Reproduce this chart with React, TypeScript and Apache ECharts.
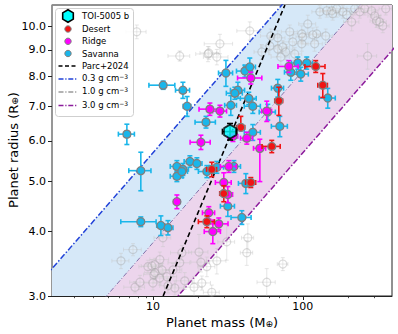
import React, { useEffect, useRef } from "react";
import * as echarts from "echarts";

// ---------- data ----------
// [mass (M_E), mass error, radius (R_E), radius error low, radius error high]
const SAVANNA: number[][] = [
  [11.7, 2.3, 7.69, 0.14, 0.14],
  [15.85, 1.7, 7.52, 0.27, 0.27],
  [16.9, 1.0, 7.0, 0.31, 0.31],
  [6.7, 0.82, 6.18, 0.28, 0.28],
  [8.3, 1.4, 5.25, 0.45, 0.45],
  [14.45, 1.4, 5.35, 0.14, 0.14],
  [15.85, 1.4, 5.28, 0.14, 0.14],
  [14.45, 1.4, 5.12, 0.12, 0.12],
  [15.6, 1.4, 5.23, 0.14, 0.14],
  [17.65, 1.5, 5.47, 0.14, 0.14],
  [19.65, 1.6, 5.42, 0.14, 0.14],
  [8.3, 2.2, 4.18, 0.09, 0.09],
  [11.3, 0.7, 4.11, 0.18, 0.18],
  [12.6, 1.0, 4.07, 0.13, 0.13],
  [30.7, 3.3, 8.12, 0.47, 0.47],
  [41.1, 5.0, 8.19, 0.22, 0.22],
  [44.3, 4.0, 8.34, 0.34, 0.34],
  [36.9, 4.0, 7.52, 0.27, 0.27],
  [35.2, 4.3, 7.42, 0.2, 0.2],
  [43.6, 5.3, 7.25, 0.2, 0.2],
  [46.4, 5.7, 7.0, 0.22, 0.22],
  [33.1, 3.0, 7.03, 0.31, 0.31],
  [22.6, 3.5, 6.52, 0.17, 0.17],
  [58.4, 7.2, 6.82, 0.24, 0.24],
  [68.1, 6.3, 7.59, 0.3, 0.3],
  [70.3, 8.6, 6.4, 0.29, 0.29],
  [46.4, 5.7, 6.23, 0.22, 0.22],
  [83.2, 7.7, 8.15, 0.29, 0.29],
  [92.6, 8.5, 8.49, 0.23, 0.23],
  [106.3, 9.8, 8.49, 0.23, 0.23],
  [97.0, 11.9, 8.08, 0.25, 0.25],
  [146.8, 18.0, 7.26, 0.32, 0.32],
  [31.6, 3.4, 4.48, 0.2, 0.2],
  [39.2, 6.0, 4.26, 0.13, 0.13],
  [41.7, 4.5, 4.96, 0.22, 0.22],
  [22.9, 2.8, 5.23, 0.14, 0.14],
  [26.7, 2.9, 5.33, 0.14, 0.14],
  [34.7, 3.7, 5.35, 0.14, 0.14],
];

const RIDGE: number[][] = [
  [14.45, 0.7, 4.57, 0.14, 0.14],
  [45.0, 8.3, 7.94, 0.21, 0.21],
  [24.0, 3.7, 6.91, 0.19, 0.19],
  [28.0, 3.0, 6.85, 0.18, 0.18],
  [57.5, 4.4, 6.85, 0.31, 0.31],
  [51.7, 4.8, 5.8, 0.8, 0.24],
  [42.3, 3.9, 6.07, 0.16, 0.16],
  [34.2, 2.6, 6.12, 0.14, 0.14],
  [20.9, 3.2, 5.96, 0.19, 0.19],
  [80.7, 12.4, 8.36, 0.22, 0.22],
  [32.1, 3.9, 5.35, 0.14, 0.14],
  [29.7, 3.6, 4.98, 0.22, 0.22],
  [31.6, 2.4, 4.72, 0.17, 0.17],
  [23.6, 2.2, 4.35, 0.12, 0.12],
  [27.5, 4.2, 4.14, 0.11, 0.11],
  [25.1, 3.1, 4.0, 0.21, 0.21],
];

const DESERT: number[][] = [
  [38.6, 2.4, 6.37, 0.06, 0.32],
  [122.0, 18.7, 8.36, 0.22, 0.22],
  [136.0, 10.0, 7.69, 0.41, 0.41],
  [69.2, 4.2, 7.17, 0.45, 0.45],
  [62.1, 8.6, 5.85, 0.16, 0.16],
  [24.7, 1.9, 5.28, 0.17, 0.17],
  [45.0, 3.5, 4.98, 0.11, 0.11],
  [29.7, 1.8, 4.74, 0.17, 0.17],
  [22.9, 2.8, 4.18, 0.11, 0.11],
];

const TOI_5005B: number[][] = [[32.7, 3.6, 6.25, 0.23, 0.23]];

// [mass, mass error, radius, radius error] — other known planets
const OTHERS: number[][] = [
  [7.8, 1.2, 9.76, 0.3], [15.1, 2.5, 8.76, 0.2], [28.0, 6, 9.25, 0.4], [23.6, 3, 8.88, 0.25],
  [44.3, 8, 9.8, 0.4], [61.2, 9, 9.58, 0.3], [60.3, 8, 9.16, 0.35], [53.3, 6, 8.92, 0.3],
  [68.1, 10, 9.04, 0.3], [73.6, 8, 9.12, 0.25], [77.0, 9, 8.92, 0.3], [85.8, 12, 9.33, 0.3],
  [98.5, 12, 9.67, 0.35], [100, 10, 9.54, 0.3], [108, 14, 10.11, 0.4], [98.5, 10, 9.25, 0.3],
  [120, 15, 9.25, 0.3], [124, 12, 9.67, 0.3], [130, 15, 10.67, 0.3], [144.5, 14, 10.72, 0.3],
  [156, 20, 10.72, 0.3], [158.5, 15, 10.58, 0.3], [168.5, 18, 10.82, 0.4], [185, 20, 10.67, 0.3],
  [196.5, 20, 10.53, 0.3], [212, 25, 10.2, 0.4], [222, 25, 10.82, 0.3], [240, 30, 10.67, 0.3],
  [259, 30, 10.82, 0.3], [288, 30, 10.72, 0.3], [302, 30, 10.48, 0.3], [311, 30, 10.25, 0.3],
  [326, 35, 10.2, 0.3], [342, 35, 10.02, 0.3], [358, 35, 10.82, 0.3], [271, 40, 8.76, 0.5],
  [71.4, 10, 8.72, 0.3], [88.4, 10, 8.84, 0.25], [23.3, 4, 8.84, 0.3], [26.7, 5, 8.72, 0.3],
  [116.6, 14, 9.63, 0.3], [142.3, 15, 9.58, 0.3], [68.1, 8, 9.5, 0.3], [81.9, 10, 9.76, 0.3],
  [6.12, 0.8, 3.51, 0.12], [7.36, 1.0, 3.69, 0.1], [9.26, 1.2, 3.42, 0.1], [9.85, 1.5, 3.43, 0.1],
  [10.15, 1.5, 3.3, 0.12], [11.66, 1.5, 3.89, 0.15], [11.13, 1.6, 3.53, 0.12], [7.59, 1.2, 3.12, 0.08],
  [8.19, 1.2, 3.19, 0.1], [13.6, 2.0, 3.37, 0.1], [15.1, 2.5, 3.48, 0.15], [14.0, 2.0, 3.11, 0.1],
  [12.4, 2.0, 3.27, 0.1], [20.3, 3.0, 3.65, 0.3], [20.9, 3.0, 3.49, 0.15], [26.7, 4.0, 3.51, 0.2],
  [15.6, 2.5, 3.64, 0.12], [43.0, 4.0, 3.89, 0.25], [42.3, 4.0, 3.64, 0.2], [16.3, 2.0, 3.21, 0.12],
  [18.8, 2.5, 3.12, 0.15], [24.7, 3.0, 3.05, 0.1], [21.2, 3.0, 3.18, 0.1], [12.6, 1.5, 3.14, 0.1],
  [11.5, 1.5, 3.37, 0.1], [10.3, 1.5, 3.33, 0.1], [11.1, 1.5, 3.25, 0.1], [10.3, 1.3, 3.45, 0.1],
  [10.0, 1.3, 3.18, 0.1], [31.1, 4.0, 3.82, 0.3], [22.9, 3.0, 3.42, 0.15], [73.6, 6.0, 3.46, 0.1],
  [57.5, 8.0, 3.19, 0.2],
];

// Parc+2024 relation (mass, radius) end points
const PARC_MASS = [11.7, 76];
const PARC_RADIUS = [3.0, 11.0];

// constant-density lines (g cm^-3)
const DENSITIES = [0.3, 1.0, 3.0];
const DENSITY_RADII = [2.5, 12];
const EARTH_DENSITY = 5.51;

const X_MIN = 2.12;
const X_MAX = 394;
const Y_MIN = 3;
const Y_MAX = 11;
const Y_TICKS = [3, 4, 5, 6, 7, 8, 9, 10];
const X_TICKS = [10, 100];
const X_MINOR_TICKS = [3, 4, 5, 6, 7, 8, 9, 20, 30, 40, 50, 60, 70, 80, 90, 200, 300];

// ---------- style ----------
const FONT = "DejaVu Sans";
const C_SAV = "#1ab6ea";
const C_RIDGE = "#ff00ff";
const C_DESERT = "#f01414";
const C_TOI = "#00ffff";
const C_D03 = "#2142d8";
const C_D10 = "#8272aa";
const C_D10_LEG = "#9a9a9a";
const C_D30 = "#8c1c9c";
const FILL_BLUE = "#d6e8f8";
const FILL_PINK = "#ecd5ec";

const massAt = (rho: number, r: number) => (rho / EARTH_DENSITY) * r * r * r;

function errorSeries(rows: number[][], color: string, lw: number, cap: number, z: number) {
  return {
    type: "custom",
    coordinateSystem: "cartesian2d",
    clip: true,
    silent: true,
    z,
    data: rows,
    encode: { x: 0, y: 2 },
    renderItem: (_p: any, api: any) => {
      const m = api.value(0);
      const me = api.value(1);
      const r = api.value(2);
      const rlo = api.value(3);
      const rhi = api.value(4);
      const c = api.coord([m, r]);
      const x1 = api.coord([Math.max(m - me, 1e-3), r])[0];
      const x2 = api.coord([m + me, r])[0];
      const y1 = api.coord([m, Math.max(r - rlo, 1e-3)])[1];
      const y2 = api.coord([m, r + rhi])[1];
      const style = { stroke: color, lineWidth: lw, fill: null };
      const children: any[] = [
        { type: "line", shape: { x1, y1: c[1], x2, y2: c[1] }, style },
        { type: "line", shape: { x1: c[0], y1, x2: c[0], y2 }, style },
      ];
      if (cap > 0) {
        children.push(
          { type: "line", shape: { x1, y1: c[1] - cap, x2: x1, y2: c[1] + cap }, style },
          { type: "line", shape: { x1: x2, y1: c[1] - cap, x2, y2: c[1] + cap }, style },
          { type: "line", shape: { x1: c[0] - cap, y1, x2: c[0] + cap, y2: y1 }, style },
          { type: "line", shape: { x1: c[0] - cap, y1: y2, x2: c[0] + cap, y2 }, style }
        );
      }
      return { type: "group", children };
    },
  };
}

function scatterSeries(rows: number[][], color: string, z: number) {
  return {
    type: "scatter",
    z,
    symbol: "circle",
    symbolSize: 8,
    data: rows.map((r) => [r[0], r[2]]),
    itemStyle: { color, borderColor: "#7f7f7f", borderWidth: 1.3, opacity: 1 },
  };
}

function bandSeries(rhoA: number, rhoB: number, color: string) {
  return {
    type: "custom",
    coordinateSystem: "cartesian2d",
    clip: true,
    silent: true,
    z: 1,
    data: [[rhoA, rhoB]],
    renderItem: (_p: any, api: any) => {
      const pts = [
        api.coord([massAt(rhoA, DENSITY_RADII[0]), DENSITY_RADII[0]]),
        api.coord([massAt(rhoA, DENSITY_RADII[1]), DENSITY_RADII[1]]),
        api.coord([massAt(rhoB, DENSITY_RADII[1]), DENSITY_RADII[1]]),
        api.coord([massAt(rhoB, DENSITY_RADII[0]), DENSITY_RADII[0]]),
      ];
      return { type: "polygon", shape: { points: pts }, style: { fill: color, stroke: null } };
    },
  };
}

function densityLine(rho: number, color: string, lw: number, dash: number[]) {
  return {
    type: "line",
    z: 3,
    silent: true,
    symbol: "none",
    data: DENSITY_RADII.map((r) => [massAt(rho, r), r]),
    lineStyle: { color, width: lw, type: dash },
  };
}

const legendRows = [16, 29, 41.3, 53.5, 66, 79, 92, 105.5];

function legendGraphics() {
  const g: any[] = [];
  g.push({
    type: "rect",
    shape: { x: 55.5, y: 8.5, width: 78, height: 108, r: 3 },
    style: { fill: "rgba(255,255,255,0.85)", stroke: "#cfcfcf", lineWidth: 1 },
    z: 100,
  });
  const hx = 68;
  const hy = legendRows[0];
  g.push({
    type: "polygon",
    shape: {
      points: [
        [hx, hy - 6.2], [hx + 5.3, hy - 3.1], [hx + 5.3, hy + 3.1],
        [hx, hy + 6.2], [hx - 5.3, hy + 3.1], [hx - 5.3, hy - 3.1],
      ],
    },
    style: { fill: C_TOI, stroke: "#000", lineWidth: 1.6 },
    z: 101,
  });
  const dots = [C_DESERT, C_RIDGE, C_SAV];
  dots.forEach((c, i) => {
    g.push({
      type: "circle",
      shape: { cx: 68, cy: legendRows[i + 1], r: 3.2 },
      style: { fill: c, stroke: "#7f7f7f", lineWidth: 1 },
      z: 101,
    });
  });
  const lines = [
    { c: "#000", dash: [4, 2.5], w: 1.6 },
    { c: C_D03, dash: [5, 1.8, 1.2, 1.8], w: 1.5 },
    { c: C_D10_LEG, dash: [5, 1.8, 1.2, 1.8], w: 1.5 },
    { c: C_D30, dash: [5, 1.8, 1.2, 1.8], w: 1.5 },
  ];
  lines.forEach((l, i) => {
    const y = legendRows[i + 4];
    g.push({
      type: "line",
      shape: { x1: 58.5, y1: y, x2: 76.5, y2: y },
      style: { stroke: l.c, lineWidth: l.w, lineDash: l.dash },
      z: 101,
    });
  });
  const labels = ["TOI-5005 b", "Desert", "Ridge", "Savanna", "Parc+2024"];
  labels.forEach((t, i) => {
    g.push({
      type: "text",
      x: 82,
      y: legendRows[i],
      style: { text: t, fontSize: 8.5, fontFamily: FONT, fill: "#000", verticalAlign: "middle", align: "left" },
      z: 102,
    });
  });
  ["0.3", "1.0", "3.0"].forEach((d, i) => {
    g.push({
      type: "text",
      x: 82,
      y: legendRows[i + 5] - 1,
      style: {
        text: `${d} g cm{sup|−3}`,
        fontSize: 8.5,
        fontFamily: FONT,
        fill: "#000",
        verticalAlign: "middle",
        align: "left",
        rich: {
          sup: { fontSize: 6, fontFamily: FONT, fill: "#000", verticalAlign: "top", lineHeight: 6 },
        },
      },
      z: 102,
    });
  });
  return g;
}

export default function App() {
  const ref = useRef<HTMLDivElement>(null);
  useEffect(() => {
    document.body.style.margin = "0";
    if (!ref.current) return;
    const chart = echarts.init(ref.current, null, { renderer: "svg" });
    const axisLabelBase = { color: "#000", fontSize: 11, fontFamily: FONT };
    const option: any = {
      animation: false,
      grid: {
        left: 52, right: 6, top: 5, bottom: 38,
        show: true, borderColor: "#222", borderWidth: 1, backgroundColor: "transparent",
      },
      xAxis: [
        {
          type: "log", min: X_MIN, max: X_MAX, position: "bottom",
          axisLine: { show: true, lineStyle: { color: "#222", width: 1 } },
          axisTick: { show: true, length: 4, customValues: X_TICKS, lineStyle: { color: "#222" } },
          axisLabel: {
            ...axisLabelBase, margin: 5, customValues: X_TICKS,
            formatter: (v: number) => String(Math.round(v)),
          },
          splitLine: { show: false },
          minorTick: { show: false },
        },
        {
          type: "log", min: X_MIN, max: X_MAX, position: "bottom", offset: 0,
          axisLine: { show: false },
          axisTick: { show: true, length: 2.2, customValues: X_MINOR_TICKS, lineStyle: { color: "#222", width: 0.8 } },
          axisLabel: { show: false },
          splitLine: { show: false },
        },
      ],
      yAxis: {
        type: "log", min: Y_MIN, max: Y_MAX,
        axisLine: { show: true, lineStyle: { color: "#9a9a9a", width: 1.5 } },
        axisTick: { show: true, length: 4, customValues: Y_TICKS, lineStyle: { color: "#222" } },
        axisLabel: {
          ...axisLabelBase, margin: 6, customValues: Y_TICKS,
          formatter: (v: number) => Number(v).toFixed(1),
        },
        splitLine: { show: false },
        minorTick: { show: false },
      },
      series: [
        bandSeries(DENSITIES[0], DENSITIES[1], FILL_BLUE),
        bandSeries(DENSITIES[1], DENSITIES[2], FILL_PINK),
        densityLine(DENSITIES[0], C_D03, 1.5, [6, 2, 1.5, 2]),
        densityLine(DENSITIES[1], C_D10, 1, [5, 2, 1, 2]),
        densityLine(DENSITIES[2], C_D30, 1.5, [6, 2, 1.5, 2]),
        errorSeries(OTHERS.map((r) => [r[0], r[1], r[2], r[3], r[3]]), "rgba(200,200,200,0.45)", 1, 2, 4),
        {
          type: "scatter", z: 5, symbol: "circle", symbolSize: 8,
          data: OTHERS.map((r) => [r[0], r[2]]),
          itemStyle: { color: "rgba(255,255,255,0.15)", borderColor: "rgba(150,150,150,0.42)", borderWidth: 1.2 },
        },
        {
          type: "line", z: 6, silent: true, symbol: "none",
          data: PARC_MASS.map((m, i) => [m, PARC_RADIUS[i]]),
          lineStyle: { color: "#000", width: 1.6, type: [5, 3] },
        },
        errorSeries(SAVANNA, C_SAV, 1.6, 2.5, 7),
        scatterSeries(SAVANNA, C_SAV, 8),
        errorSeries(RIDGE, C_RIDGE, 1.6, 2.5, 9),
        scatterSeries(RIDGE, C_RIDGE, 10),
        errorSeries(DESERT, C_DESERT, 1.6, 2.5, 11),
        scatterSeries(DESERT, C_DESERT, 12),
        errorSeries(TOI_5005B, "#000", 1.6, 3, 13),
        {
          type: "scatter", z: 14,
          symbol: "path://M0,-1L0.866,-0.5L0.866,0.5L0,1L-0.866,0.5L-0.866,-0.5Z",
          symbolSize: [12, 14],
          data: TOI_5005B.map((r) => [r[0], r[2]]),
          itemStyle: { color: C_TOI, borderColor: "#000", borderWidth: 1.8 },
        },
      ],
      graphic: [
        ...legendGraphics(),
        {
          type: "text", x: 222, y: 322,
          style: {
            text: "Planet mass (M{sub|⊕})", fontSize: 13, fontFamily: FONT, fill: "#000",
            align: "center", verticalAlign: "middle",
            rich: { sub: { fontSize: 9, fontFamily: FONT, fill: "#000", verticalAlign: "bottom", padding: [4, 0, 0, 0] } },
          },
        },
        {
          type: "text", x: 13, y: 150, rotation: Math.PI / 2,
          style: {
            text: "Planet radius (R{sub|⊕})", fontSize: 13, fontFamily: FONT, fill: "#000",
            align: "center", verticalAlign: "middle",
            rich: { sub: { fontSize: 9, fontFamily: FONT, fill: "#000", verticalAlign: "bottom", padding: [4, 0, 0, 0] } },
          },
        },
      ],
    };
    chart.setOption(option);
    return () => chart.dispose();
  }, []);
  return <div ref={ref} style={{ width: 398, height: 334 }} />;
}
